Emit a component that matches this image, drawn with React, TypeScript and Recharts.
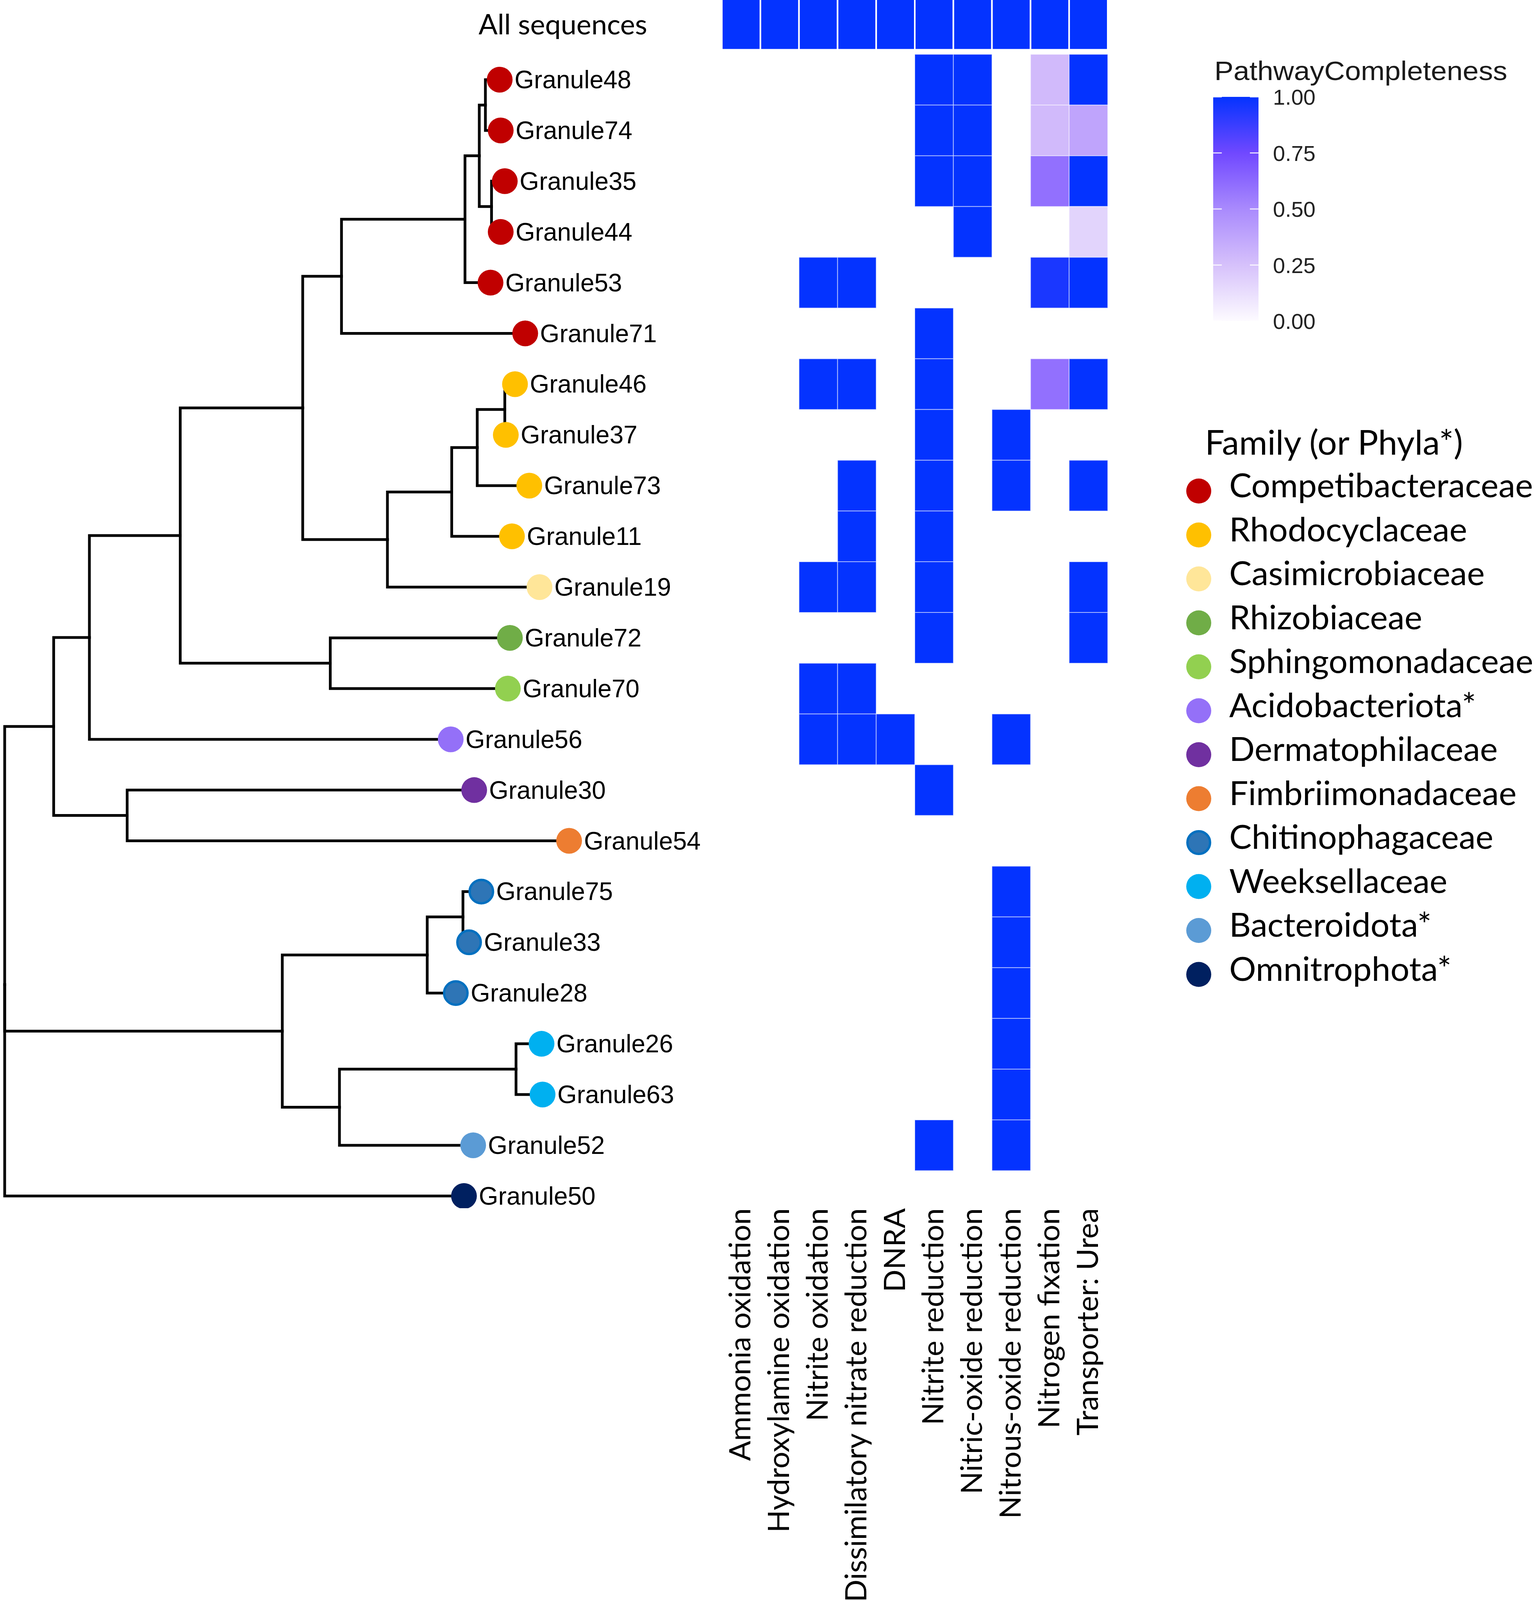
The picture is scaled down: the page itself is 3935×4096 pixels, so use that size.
import React from 'react'
import {
  ComposedChart, Line, Scatter, XAxis, YAxis, ReferenceArea, ReferenceLine,
} from 'recharts'

// ─── Tree tips (top to bottom) ──────────────────────────────────────
const TIPS = [
  'Granule48', 'Granule74', 'Granule35', 'Granule44', 'Granule53', 'Granule71',
  'Granule46', 'Granule37', 'Granule73', 'Granule11', 'Granule19', 'Granule72',
  'Granule70', 'Granule56', 'Granule30', 'Granule54', 'Granule75', 'Granule33',
  'Granule28', 'Granule26', 'Granule63', 'Granule52', 'Granule50',
]
// branch depth of every tip (tree units)
const TIP_DEPTH = [
  4.85, 4.86, 4.90, 4.86, 4.76, 5.10,
  5.00, 4.91, 5.14, 4.97, 5.24, 4.95,
  4.93, 4.37, 4.60, 5.53, 4.67, 4.55,
  4.42, 5.26, 5.27, 4.59, 4.50,
]
const TIP_FAMILY = [
  'Competibacteraceae', 'Competibacteraceae', 'Competibacteraceae', 'Competibacteraceae', 'Competibacteraceae', 'Competibacteraceae',
  'Rhodocyclaceae', 'Rhodocyclaceae', 'Rhodocyclaceae', 'Rhodocyclaceae', 'Casimicrobiaceae', 'Rhizobiaceae',
  'Sphingomonadaceae', 'Acidobacteriota*', 'Dermatophilaceae', 'Fimbriimonadaceae', 'Chitinophagaceae', 'Chitinophagaceae',
  'Chitinophagaceae', 'Weeksellaceae', 'Weeksellaceae', 'Bacteroidota*', 'Omnitrophota*',
]

// ─── Internal nodes (children listed before parents) ────────────────
const NODE_IDS = [
  'n48_74', 'n35_44', 'nP1', 'nP2', 'nP3',
  'nM', 'nL', 'nK', 'nI', 'nE', 'nF', 'nD', 'nC', 'nN', 'nB',
  'nS', 'nR', 'nU', 'nT', 'nQ', 'root',
]
const NODE_CHILDREN = [
  ['Granule48', 'Granule74'], ['Granule35', 'Granule44'], ['n48_74', 'n35_44'], ['nP1', 'Granule53'], ['nP2', 'Granule71'],
  ['Granule46', 'Granule37'], ['nM', 'Granule73'], ['nL', 'Granule11'], ['nK', 'Granule19'], ['nP3', 'nI'],
  ['Granule72', 'Granule70'], ['nE', 'nF'], ['nD', 'Granule56'], ['Granule30', 'Granule54'], ['nC', 'nN'],
  ['Granule75', 'Granule33'], ['nS', 'Granule28'], ['Granule26', 'Granule63'], ['nU', 'Granule52'], ['nR', 'nT'],
  ['nB', 'nQ', 'Granule50'],
]
const NODE_DEPTH = [
  4.71, 4.77, 4.65, 4.51, 3.30,
  4.90, 4.63, 4.38, 3.75, 2.92, 3.19, 1.72, 0.83, 1.20, 0.48,
  4.49, 4.14, 5.01, 3.28, 2.72, 0,
]

// ─── Families ───────────────────────────────────────────────────────
const FAMILIES = [
  'Competibacteraceae', 'Rhodocyclaceae', 'Casimicrobiaceae', 'Rhizobiaceae',
  'Sphingomonadaceae', 'Acidobacteriota*', 'Dermatophilaceae', 'Fimbriimonadaceae',
  'Chitinophagaceae', 'Weeksellaceae', 'Bacteroidota*', 'Omnitrophota*',
]
const FAMILY_FILL = [
  '#c00000', '#ffc000', '#ffe699', '#70ad47',
  '#92d050', '#9470f8', '#7030a0', '#ed7d31',
  '#2e75b6', '#00b0f0', '#5b9bd5', '#002060',
]
const FAMILY_RING = [null, null, null, null, null, null, null, null, '#0070c0', null, null, null]

// ─── Heatmap ────────────────────────────────────────────────────────
const COLUMNS = [
  'Ammonia oxidation', 'Hydroxylamine oxidation', 'Nitrite oxidation',
  'Dissimilatory nitrate reduction', 'DNRA', 'Nitrite reduction',
  'Nitric-oxide reduction', 'Nitrous-oxide reduction', 'Nitrogen fixation',
  'Transporter: Urea',
]
const ALL_SEQUENCES = [1, 1, 1, 1, 1, 1, 1, 1, 1, 1]
// one row per tip, same order as TIPS, columns as COLUMNS
const COMPLETENESS = [
  [0, 0, 0, 0, 0, 1, 1, 0, 0.28, 1],
  [0, 0, 0, 0, 0, 1, 1, 0, 0.28, 0.38],
  [0, 0, 0, 0, 0, 1, 1, 0, 0.6, 1],
  [0, 0, 0, 0, 0, 0, 1, 0, 0, 0.17],
  [0, 0, 1, 1, 0, 0, 0, 0, 0.95, 1],
  [0, 0, 0, 0, 0, 1, 0, 0, 0, 0],
  [0, 0, 1, 1, 0, 1, 0, 0, 0.6, 1],
  [0, 0, 0, 0, 0, 1, 0, 1, 0, 0],
  [0, 0, 0, 1, 0, 1, 0, 1, 0, 1],
  [0, 0, 0, 1, 0, 1, 0, 0, 0, 0],
  [0, 0, 1, 1, 0, 1, 0, 0, 0, 1],
  [0, 0, 0, 0, 0, 1, 0, 0, 0, 1],
  [0, 0, 1, 1, 0, 0, 0, 0, 0, 0],
  [0, 0, 1, 1, 1, 0, 0, 1, 0, 0],
  [0, 0, 0, 0, 0, 1, 0, 0, 0, 0],
  [0, 0, 0, 0, 0, 0, 0, 0, 0, 0],
  [0, 0, 0, 0, 0, 0, 0, 1, 0, 0],
  [0, 0, 0, 0, 0, 0, 0, 1, 0, 0],
  [0, 0, 0, 0, 0, 0, 0, 1, 0, 0],
  [0, 0, 0, 0, 0, 0, 0, 1, 0, 0],
  [0, 0, 0, 0, 0, 0, 0, 1, 0, 0],
  [0, 0, 0, 0, 0, 1, 0, 1, 0, 0],
  [0, 0, 0, 0, 0, 0, 0, 0, 0, 0],
]
const LEGEND_TICKS = [0, 0.25, 0.5, 0.75, 1]
const COLOR_STOPS = [0, 0.25, 0.5, 0.75, 1]
const COLOR_VALUES = ['#fdfbff', '#d6c1fb', '#a98afd', '#7048ff', '#0433ff']

// ─── Layout ─────────────────────────────────────────────────────────
const W = 3935
const H = 4096
const PLOT_H = 3093
const Y_DOMAIN: [number, number] = [-1.5704, 22.24]
const ROW_PX = PLOT_H / (Y_DOMAIN[1] - Y_DOMAIN[0])
const ALL_ROW = -1.09
const TREE_W = 1840
const TREE_X: [number, number] = [-0.0459, -0.0459 + TREE_W / 261.3]
const HEAT_LEFT = 1848
const HEAT_AXIS_W = 700
const COL_PX = 98.8
const CALIBRI = "Lato, 'Open Sans', sans-serif"
const ARIAL = "'Liberation Sans', Arial, sans-serif"

function hexToRgb(h: string) {
  const n = parseInt(h.slice(1), 16)
  return [(n >> 16) & 255, (n >> 8) & 255, n & 255]
}
function completenessColor(v: number) {
  let i = 0
  while (i < COLOR_STOPS.length - 2 && v > COLOR_STOPS[i + 1]) i++
  const t = (v - COLOR_STOPS[i]) / (COLOR_STOPS[i + 1] - COLOR_STOPS[i])
  const a = hexToRgb(COLOR_VALUES[i])
  const b = hexToRgb(COLOR_VALUES[i + 1])
  const c = a.map((x, k) => Math.round(x + (b[k] - x) * t))
  return `rgb(${c[0]},${c[1]},${c[2]})`
}

// ─── Tree layout (y of a node = mean of its children) ───────────────
const nodeY: Record<string, number> = {}
const nodeDepth: Record<string, number> = {}
TIPS.forEach((t, i) => { nodeY[t] = i; nodeDepth[t] = TIP_DEPTH[i] })
NODE_IDS.forEach((id, k) => {
  const ys = NODE_CHILDREN[k].map(c => nodeY[c])
  nodeY[id] = ys.reduce((s, y) => s + y, 0) / ys.length
  nodeDepth[id] = NODE_DEPTH[k]
})
const edges = NODE_IDS.flatMap((id, k) =>
  NODE_CHILDREN[k].map(c => [
    { x: nodeDepth[id], y: nodeY[id] },
    { x: nodeDepth[id], y: nodeY[c] },
    { x: nodeDepth[c], y: nodeY[c] },
  ])
)
const tipData = TIPS.map((name, i) => {
  const f = FAMILIES.indexOf(TIP_FAMILY[i])
  return { x: TIP_DEPTH[i], y: i, name, fill: FAMILY_FILL[f], ring: FAMILY_RING[f] }
})

const heatData = [
  ...ALL_SEQUENCES.map((v, c) => ({ x: c, y: ALL_ROW, v, top: true })),
  ...COMPLETENESS.flatMap((row, r) => row.map((v, c) => ({ x: c, y: r, v, top: false }))),
].filter(d => d.v > 0)

// ─── Shapes and ticks ───────────────────────────────────────────────
function TipShape(props: any) {
  const { cx, cy, payload } = props
  return (
    <g>
      {payload.ring
        ? <circle cx={cx} cy={cy} r={30} fill={payload.fill} stroke={payload.ring} strokeWidth={6} />
        : <circle cx={cx} cy={cy} r={33} fill={payload.fill} />}
      <text x={cx + 38} y={cy + 22} fontFamily={ARIAL} fontSize={64} fill="#000">{payload.name}</text>
    </g>
  )
}

function CellShape(props: any) {
  const { cx, cy, payload } = props
  return (
    <rect
      x={cx - COL_PX / 2}
      y={cy - ROW_PX / 2}
      width={COL_PX}
      height={ROW_PX}
      fill={completenessColor(payload.v)}
      stroke={payload.top ? '#ffffff' : 'rgba(255,255,255,0.55)'}
      strokeWidth={payload.top ? 4 : 2}
    />
  )
}

function ColumnTick(props: any) {
  const { x, y, payload } = props
  const bx = x + 24
  return (
    <text x={bx} y={y} transform={`rotate(-90 ${bx} ${y})`} textAnchor="end"
      fontFamily={CALIBRI} fontSize={76} fill="#000">
      {COLUMNS[payload.value]}
    </text>
  )
}

function RowTick(props: any) {
  const { x, y } = props
  return (
    <text x={x} y={y + 26} textAnchor="end" fontFamily={CALIBRI} fontSize={72} fill="#000">
      All sequences
    </text>
  )
}

function LegendTick(props: any) {
  const { x, y, payload } = props
  return (
    <text x={x} y={y + 20} textAnchor="start" fontFamily={ARIAL} fontSize={56} fill="#222">
      {Number(payload.value).toFixed(2)}
    </text>
  )
}

export default function App() {
  return (
    <div style={{ position: 'absolute', left: 0, top: 0, width: W, height: H, background: '#fff', overflow: 'hidden' }}>
      {/* tree */}
      <div style={{ position: 'absolute', left: 0, top: 0 }}>
        <ComposedChart width={TREE_W} height={PLOT_H + 200} margin={{ top: 0, right: 0, bottom: 200, left: 0 }}>
          <XAxis type="number" dataKey="x" domain={TREE_X} hide allowDataOverflow />
          <YAxis type="number" dataKey="y" domain={Y_DOMAIN} reversed hide allowDataOverflow />
          {edges.map((e, i) => (
            <Line
              key={`edge-${i}`}
              data={e}
              dataKey="y"
              type="linear"
              stroke="#000"
              strokeWidth={7}
              strokeLinecap="square"
              strokeLinejoin="miter"
              dot={false}
              activeDot={false}
              isAnimationActive={false}
            />
          ))}
          <Scatter data={tipData} dataKey="y" shape={TipShape} isAnimationActive={false} />
        </ComposedChart>
      </div>

      {/* heatmap */}
      <div style={{ position: 'absolute', left: HEAT_LEFT - HEAT_AXIS_W, top: 0 }}>
        <ComposedChart width={HEAT_AXIS_W + COL_PX * COLUMNS.length} height={H} margin={{ top: 0, right: 0, bottom: 0, left: 0 }}>
          <XAxis
            type="number" dataKey="x" domain={[-0.5, COLUMNS.length - 0.5]}
            ticks={COLUMNS.map((_, i) => i)} interval={0}
            height={H - PLOT_H} axisLine={false} tickLine={false} tickSize={0} tickMargin={0}
            tick={ColumnTick} allowDataOverflow
          />
          <YAxis
            type="number" dataKey="y" domain={Y_DOMAIN} reversed
            width={HEAT_AXIS_W} ticks={[ALL_ROW]} interval={0}
            axisLine={false} tickLine={false} tickSize={0} tickMargin={191}
            tick={RowTick} allowDataOverflow
          />
          <Scatter data={heatData} dataKey="y" shape={CellShape} isAnimationActive={false} />
        </ComposedChart>
      </div>

      {/* colour bar */}
      <div style={{ position: 'absolute', left: 3106, top: 0 }}>
        <ComposedChart
          width={416} height={1000}
          data={LEGEND_TICKS.map(v => ({ x: 0.5, y: v }))}
          margin={{ top: 248, right: 0, bottom: 178, left: 0 }}
        >
          <defs>
            <linearGradient id="pcGrad" x1="0" y1="1" x2="0" y2="0">
              {COLOR_STOPS.map((s, i) => (
                <stop key={s} offset={`${s * 100}%`} stopColor={COLOR_VALUES[i]} />
              ))}
            </linearGradient>
          </defs>
          <XAxis type="number" dataKey="x" domain={[0, 1]} hide />
          <YAxis
            type="number" dataKey="y" orientation="right" domain={[0, 1]}
            ticks={LEGEND_TICKS} interval={0} width={300}
            axisLine={false} tickLine={false} tickSize={0} tickMargin={37}
            tick={LegendTick}
          />
          <ReferenceArea x1={0} x2={1} y1={0} y2={1} fill="url(#pcGrad)" fillOpacity={1} stroke="none" ifOverflow="visible" />
          {LEGEND_TICKS.flatMap(v => [
            <ReferenceLine key={`l${v}`} segment={[{ x: 0, y: v }, { x: 0.19, y: v }]} stroke="#fff" strokeWidth={3} strokeOpacity={0.8} />,
            <ReferenceLine key={`r${v}`} segment={[{ x: 0.81, y: v }, { x: 1, y: v }]} stroke="#fff" strokeWidth={3} strokeOpacity={0.8} />,
          ])}
        </ComposedChart>
      </div>

      {/* legend texts */}
      <svg width={W} height={H} style={{ position: 'absolute', left: 0, top: 0, pointerEvents: 'none' }}>
        <text x={3109} y={205} fontFamily={ARIAL} fontSize={68} fill="#1a1a1a" textLength={750} lengthAdjust="spacingAndGlyphs">
          PathwayCompleteness
        </text>
        <text x={3085} y={1164} fontFamily={CALIBRI} fontSize={88} fill="#000">Family (or Phyla*)</text>
        {FAMILIES.map((f, i) => {
          const cy = 1257 + i * 112.5
          return (
            <g key={f}>
              {FAMILY_RING[i]
                ? <circle cx={3069} cy={cy} r={29} fill={FAMILY_FILL[i]} stroke={FAMILY_RING[i] as string} strokeWidth={6} />
                : <circle cx={3069} cy={cy} r={32} fill={FAMILY_FILL[i]} />}
              <text x={3147} y={cy + 16} fontFamily={CALIBRI} fontSize={86} fill="#000">{f}</text>
            </g>
          )
        })}
      </svg>
    </div>
  )
}
